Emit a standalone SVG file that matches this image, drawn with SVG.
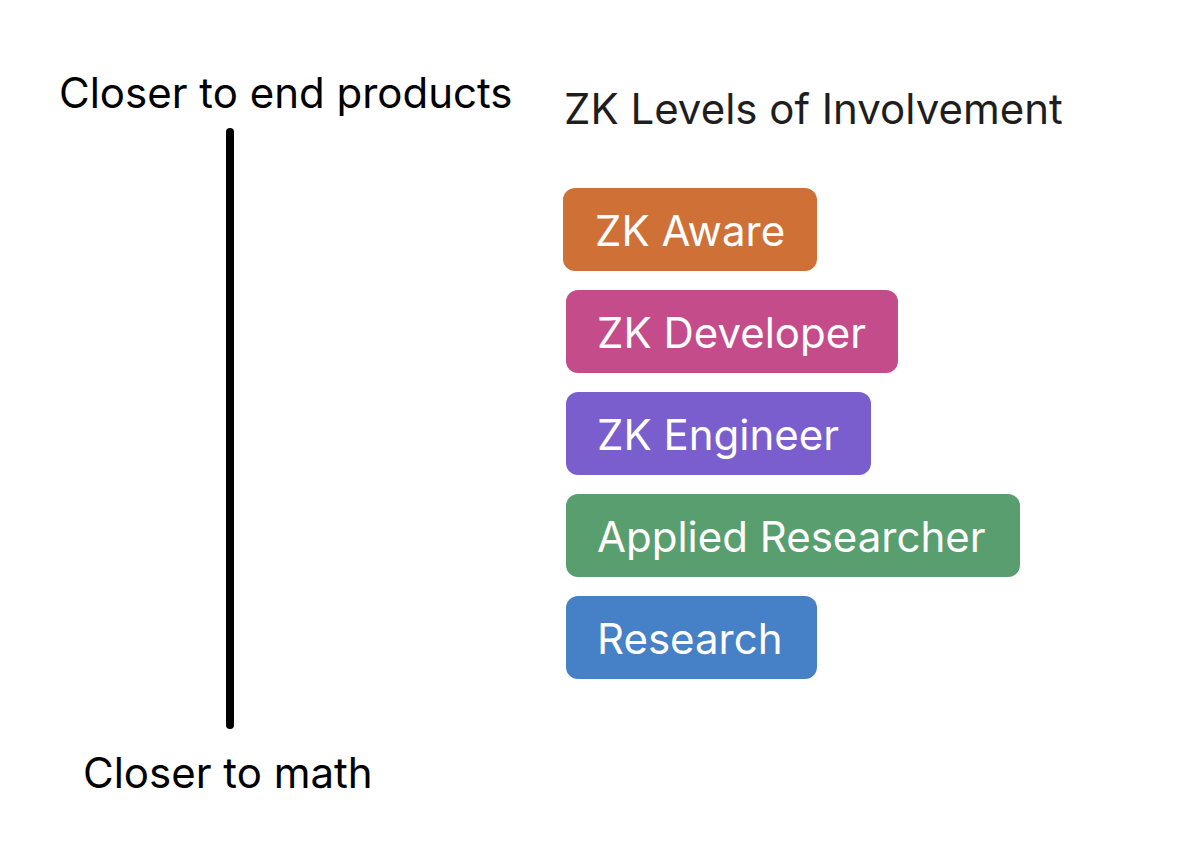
<svg xmlns="http://www.w3.org/2000/svg" width="1200" height="842" viewBox="0 0 1200 842">
<style>
.lbl{font-family:Inter,"Noto Sans",sans-serif;font-size:42px;fill:#000}
.ttl{font-family:Inter,"Noto Sans",sans-serif;font-size:42px;fill:#1e1e1e}
.box text{font-family:Inter,"Noto Sans",sans-serif;font-size:42px;fill:#fff}
</style>
<rect width="1200" height="842" fill="#fff"/>
<text class="lbl" x="59" y="108">Closer to end products</text>
<text class="lbl" x="83" y="788">Closer to math</text>
<text class="ttl" x="564" y="124">ZK Levels of Involvement</text>
<g id="connectors">
<line x1="230" y1="132" x2="230" y2="725" stroke="#000" stroke-width="8" stroke-linecap="round"/>
</g>
<g id="zk-aware" class="box"><rect x="563" y="188" width="254" height="83" rx="12" fill="#cf7036"/><text x="595" y="246">ZK Aware</text></g>
<g id="zk-developer" class="box"><rect x="566" y="290" width="332" height="83" rx="12" fill="#c44c8a"/><text x="597" y="348">ZK Developer</text></g>
<g id="zk-engineer" class="box"><rect x="566" y="392" width="305" height="83" rx="12" fill="#7a5ecd"/><text x="597" y="450">ZK Engineer</text></g>
<g id="applied-researcher" class="box"><rect x="566" y="494" width="454" height="83" rx="12" fill="#599e6e"/><text x="597" y="552">Applied Researcher</text></g>
<g id="research" class="box"><rect x="566" y="596" width="251" height="83" rx="12" fill="#4680c6"/><text x="597" y="654">Research</text></g>
</svg>
